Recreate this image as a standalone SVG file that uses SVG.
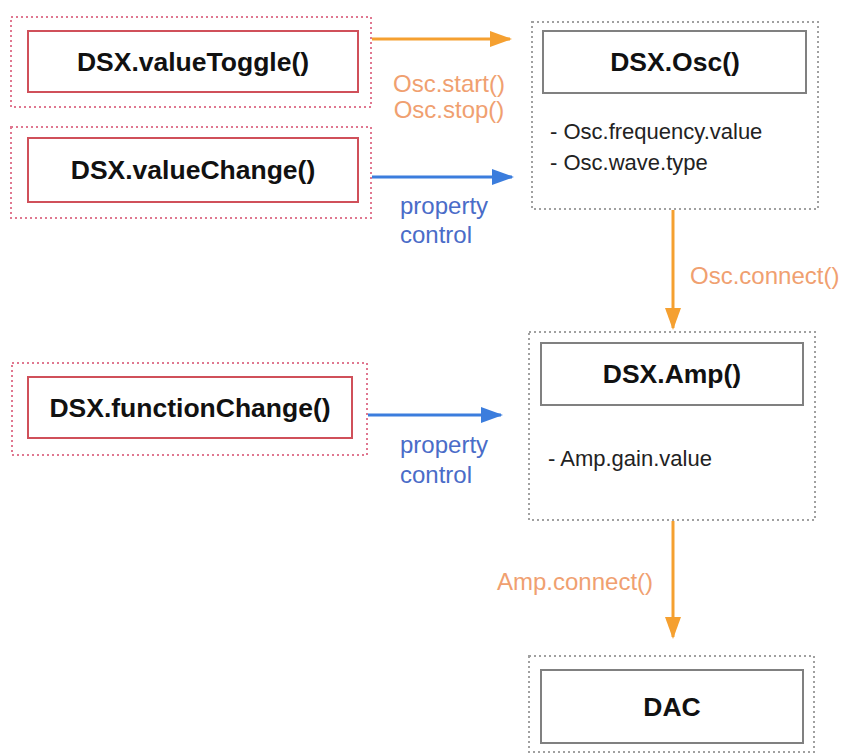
<svg xmlns="http://www.w3.org/2000/svg" width="846" height="755" viewBox="0 0 846 755">
<style>
.outerP{fill:none;stroke:#e07890;stroke-width:2;stroke-dasharray:2 3}
.outerG{fill:none;stroke:#a0a0a0;stroke-width:2;stroke-dasharray:2 3}
.innerR{fill:#fff;stroke:#d0505a;stroke-width:2}
.innerG{fill:#fff;stroke:#808080;stroke-width:2}
.title{font-family:"Liberation Sans",Arial,sans-serif;font-weight:bold;font-size:26.5px;fill:#111;text-anchor:middle}
.body{font-family:"Liberation Sans",Arial,sans-serif;font-size:22px;fill:#222}
.lo{font-family:"Liberation Sans",Arial,sans-serif;font-size:24px;fill:#f0a070}
.lb{font-family:"Liberation Sans",Arial,sans-serif;font-size:24px;fill:#4a6cc8}
.ao{fill:none;stroke:#f5a030;stroke-width:3}
.ab{fill:none;stroke:#3b7ddd;stroke-width:3}
</style>
<defs>
<marker id="hO" markerUnits="userSpaceOnUse" markerWidth="22" markerHeight="16" refX="20" refY="8" orient="auto"><path d="M0,0 L22,8 L0,16 z" fill="#f5a030"/></marker>
<marker id="hB" markerUnits="userSpaceOnUse" markerWidth="22" markerHeight="16" refX="20" refY="8" orient="auto"><path d="M0,0 L22,8 L0,16 z" fill="#3b7ddd"/></marker>
</defs>
<rect width="846" height="755" fill="#fff"/>

<g id="connectors">
<line class="ao" x1="372" y1="39" x2="510" y2="39" marker-end="url(#hO)"/>
<line class="ab" x1="372" y1="177" x2="512" y2="177" marker-end="url(#hB)"/>
<line class="ab" x1="368" y1="415" x2="501" y2="415" marker-end="url(#hB)"/>
<line class="ao" x1="673" y1="210" x2="673" y2="328" marker-end="url(#hO)"/>
<line class="ao" x1="673" y1="521" x2="673" y2="637" marker-end="url(#hO)"/>
<text class="lo" x="449" y="92" text-anchor="middle" font-size="23">Osc.start()</text>
<text class="lo" x="449" y="118" text-anchor="middle" font-size="23">Osc.stop()</text>
<text class="lb" x="400" y="214">property</text>
<text class="lb" x="400" y="243">control</text>
<text class="lb" x="400" y="453">property</text>
<text class="lb" x="400" y="483">control</text>
<text class="lo" x="690" y="284">Osc.connect()</text>
<text class="lo" x="497" y="590">Amp.connect()</text>
</g>

<g id="valueToggle">
<rect class="outerP" x="11" y="17" width="360" height="90"/>
<rect class="innerR" x="28" y="31" width="330" height="61"/>
<text class="title" x="193" y="71">DSX.valueToggle()</text>
</g>

<g id="valueChange">
<rect class="outerP" x="11" y="127" width="360" height="91"/>
<rect class="innerR" x="28" y="138" width="330" height="64"/>
<text class="title" x="193" y="179">DSX.valueChange()</text>
</g>

<g id="functionChange">
<rect class="outerP" x="12" y="363" width="355" height="92"/>
<rect class="innerR" x="28" y="377" width="324" height="61"/>
<text class="title" x="190" y="417">DSX.functionChange()</text>
</g>

<g id="osc">
<rect class="outerG" x="532" y="22" width="286" height="187"/>
<rect class="innerG" x="543" y="31" width="263" height="62"/>
<text class="title" x="675" y="71">DSX.Osc()</text>
<text class="body" x="550" y="139">- Osc.frequency.value</text>
<text class="body" x="550" y="170">- Osc.wave.type</text>
</g>

<g id="amp">
<rect class="outerG" x="529" y="332" width="286" height="188"/>
<rect class="innerG" x="541" y="343" width="262" height="62"/>
<text class="title" x="672" y="383">DSX.Amp()</text>
<text class="body" x="548" y="466">- Amp.gain.value</text>
</g>

<g id="dac">
<rect class="outerG" x="529" y="656" width="285" height="96"/>
<rect class="innerG" x="541" y="670" width="262" height="73"/>
<text class="title" x="672" y="716">DAC</text>
</g>
</svg>
